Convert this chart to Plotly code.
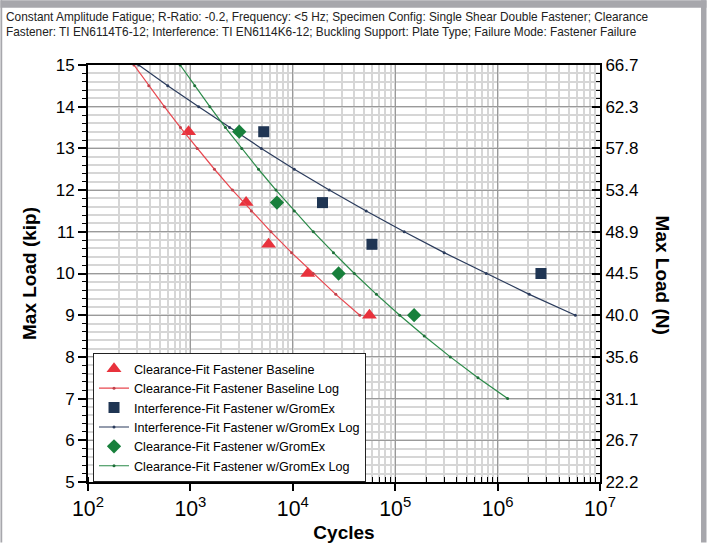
import plotly.graph_objects as go

# ---- data ----
base_cycles = [960, 3500, 5800, 14000, 56000]
base_load = [13.4, 11.7, 10.7, 10.0, 9.0]

intf_cycles = [5200, 19500, 59300, 2650000]
intf_load = [13.4, 11.7, 10.7, 10.0]

grom_cycles = [3000, 7000, 28000, 153000]
grom_load = [13.4, 11.7, 10.0, 9.0]

base_log_load = [15, 14.5, 14, 13.5, 13, 12.5, 12, 11.5, 11, 10.5, 10, 9.5, 9]
base_log_cycles = [281, 392, 557, 800, 1164, 1718, 2576, 3936, 6124, 9727, 15810, 26300, 45100]

intf_log_load = [15, 14.5, 14, 13.5, 13, 12.5, 12, 11.5, 11, 10.5, 10, 9.5, 9]
intf_log_cycles = [313, 601, 1205, 2415, 4932, 10350, 22700, 52100, 122500, 300600, 776000, 2040000, 5750000]

grom_log_load = [15, 14.5, 14, 13.5, 13, 12.5, 12, 11.5, 11, 10.5, 10, 9.5, 9, 8.5, 8, 7.5, 7]
grom_log_cycles = [794, 1102, 1549, 2198, 3170, 4624, 6855, 10350, 15880, 24950, 39900, 65600,
                   110700, 192300, 345100, 642700, 1253000]

kip_ticks = [5, 6, 7, 8, 9, 10, 11, 12, 13, 14, 15]
n_ticktext = ["22.2", "26.7", "31.1", "35.6", "40.0", "44.5", "48.9", "53.4", "57.8", "62.3", "66.7"]
KIP_TO_KN = 4.44822

title_text = ("Constant Amplitude Fatigue; R-Ratio: -0.2, Frequency: &lt;5 Hz; Specimen Config: Single Shear Double Fastener; Clearance<br>"
              "Fastener: TI EN6114T6-12; Interference: TI EN6114K6-12; Buckling Support: Plate Type; Failure Mode: Fastener Failure")

RED = "#e8323c"
NAVY = "#1f3553"
GREEN = "#18803c"
FRAME = "#a7a7ac"
FONT = "Arial, Liberation Sans, sans-serif"

fig = go.Figure()
fig.add_trace(go.Scatter(x=base_cycles, y=base_load, mode="markers", name="Clearance-Fit Fastener Baseline",
                         legendgroup="a", marker=dict(symbol="triangle-up", size=13, color=RED)))
fig.add_trace(go.Scatter(x=base_log_cycles, y=base_log_load, mode="lines+markers", name="Clearance-Fit Fastener Baseline Log",
                         legendgroup="a", line=dict(color="#e8474f", width=1.2),
                         marker=dict(size=3, color="#c0404a")))
fig.add_trace(go.Scatter(x=intf_cycles, y=intf_load, mode="markers", name="Interference-Fit Fastener w/GromEx",
                         legendgroup="b", marker=dict(symbol="square", size=11, color=NAVY)))
fig.add_trace(go.Scatter(x=intf_log_cycles, y=intf_log_load, mode="lines+markers", name="Interference-Fit Fastener w/GromEx Log",
                         legendgroup="b", line=dict(color="#2a3b5c", width=1.2),
                         marker=dict(size=3, color="#2a3b5c")))
fig.add_trace(go.Scatter(x=grom_cycles, y=grom_load, mode="markers", name="Clearance-Fit Fastener w/GromEx",
                         legendgroup="c", marker=dict(symbol="diamond", size=11, color=GREEN)))
fig.add_trace(go.Scatter(x=grom_log_cycles, y=grom_log_load, mode="lines+markers", name="Clearance-Fit Fastener w/GromEx Log",
                         legendgroup="c", line=dict(color="#2a8a48", width=1.2),
                         marker=dict(size=3, color="#1d6e38")))
# invisible trace to activate right axis
fig.add_trace(go.Scatter(x=[1000], y=[10 * KIP_TO_KN], yaxis="y2", mode="markers",
                         marker=dict(opacity=0), showlegend=False, hoverinfo="skip"))

fig.update_layout(
    width=707, height=543,
    margin=dict(l=88, r=107, t=65, b=61, autoexpand=False),
    paper_bgcolor="white", plot_bgcolor="white",
    font=dict(family=FONT, color="black"),
    showlegend=True,
    legend=dict(x=0.0098, y=0.309, xanchor="left", yanchor="top",
                bgcolor="white", bordercolor="#222", borderwidth=1,
                font=dict(size=12.6, family=FONT), tracegroupgap=0),
    xaxis=dict(type="log", range=[2, 7], dtick=1, exponentformat="power", showexponent="all",
               tickfont=dict(size=17), ticks="outside", ticklen=7, tickwidth=1.5, tickcolor="black",
               showline=True, linecolor="black", linewidth=2, mirror=True,
               showgrid=True, gridcolor="#9a9a9a", gridwidth=1,
               minor=dict(ticks="inside", ticklen=5, tickcolor="black", tickwidth=1,
                          showgrid=True, gridcolor="#d6d6d6", gridwidth=1.5),
               title=dict(text="<b>Cycles</b>", font=dict(size=19), standoff=6),
               automargin=False, zeroline=False),
    yaxis=dict(range=[5, 15], tickvals=kip_ticks, tickfont=dict(size=17),
               ticks="outside", ticklen=8, tickwidth=1.5, tickcolor="black",
               showline=True, linecolor="black", linewidth=2, mirror=True,
               showgrid=True, gridcolor="#9a9a9a", gridwidth=1,
               minor=dict(dtick=0.2, ticks="outside", ticklen=4, tickcolor="black", tickwidth=1,
                          showgrid=True, gridcolor="#d6d6d6", gridwidth=1.5),
               title=dict(text="<b>Max Load (kip)</b>", font=dict(size=19), standoff=14),
               automargin=False, zeroline=False),
    yaxis2=dict(overlaying="y", side="right", range=[5 * KIP_TO_KN, 15 * KIP_TO_KN],
                tickvals=[k * KIP_TO_KN for k in kip_ticks], ticktext=n_ticktext,
                tickfont=dict(size=17), ticks="inside", ticklen=8, tickwidth=1.5, tickcolor="black",
                showline=True, linecolor="black", linewidth=2, showgrid=False, zeroline=False,
                automargin=False,
                minor=dict(dtick=0.2 * KIP_TO_KN, tick0=5 * KIP_TO_KN, ticks="inside", ticklen=4,
                           tickcolor="black", tickwidth=1, showgrid=False)),
    annotations=[
        dict(text=title_text, xref="paper", yref="paper", x=-0.1641, y=1.1375, xanchor="left", yanchor="top",
             align="left", showarrow=False, font=dict(size=11.85, family=FONT, color="#222")),
        dict(text="<b>Max Load (N)</b>", xref="paper", yref="paper", x=1.1467, y=0.496,
             textangle=90, showarrow=False, font=dict(size=19, family=FONT)),
    ],
    shapes=[
        dict(type="rect", xref="paper", yref="paper", x0=-0.171, x1=1.208, y0=1.137, y1=1.155,
             fillcolor=FRAME, line=dict(width=0), layer="below"),
        dict(type="rect", xref="paper", yref="paper", x0=1.1973, x1=1.208, y0=-0.145, y1=1.155,
             fillcolor=FRAME, line=dict(width=0), layer="below"),
        dict(type="rect", xref="paper", yref="paper", x0=-0.171, x1=-0.1675, y0=-0.145, y1=1.155,
             fillcolor=FRAME, line=dict(width=0), layer="below"),
    ],
)

fig.write_html("out.html", config={"displayModeBar": False},
               post_script="document.body.style.margin='0';document.body.style.overflow='hidden';")
